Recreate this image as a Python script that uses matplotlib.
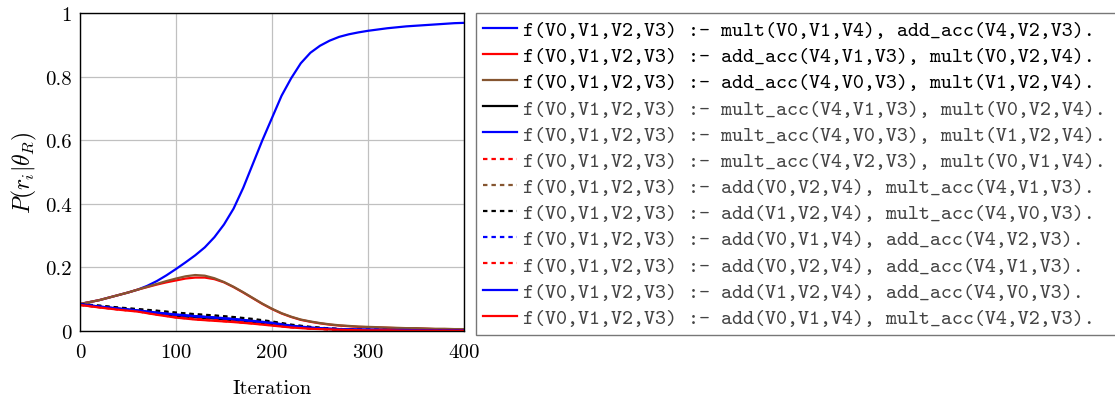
import matplotlib
matplotlib.use("Agg")
import matplotlib.pyplot as plt

plt.rcParams['mathtext.fontset'] = 'cm'
plt.rcParams['axes.formatter.use_mathtext'] = True

# iterations (fine grid for the curves that bend a lot)
iters_fine = [0, 10, 20, 30, 40, 50, 60, 70, 80, 90, 100, 110, 120, 130, 140, 150, 160, 170, 180, 190, 200,
              210, 220, 230, 240, 250, 260, 270, 280, 290, 300, 310, 320, 330, 340, 350, 360, 370, 380, 390, 400]
iters = [0, 20, 40, 60, 80, 100, 120, 140, 160, 180, 200,
         220, 240, 260, 280, 300, 320, 340, 360, 380, 400]

labels = [
    "f(V0,V1,V2,V3) :- mult(V0,V1,V4), add_acc(V4,V2,V3).",
    "f(V0,V1,V2,V3) :- add_acc(V4,V1,V3), mult(V0,V2,V4).",
    "f(V0,V1,V2,V3) :- add_acc(V4,V0,V3), mult(V1,V2,V4).",
    "f(V0,V1,V2,V3) :- mult_acc(V4,V1,V3), mult(V0,V2,V4).",
    "f(V0,V1,V2,V3) :- mult_acc(V4,V0,V3), mult(V1,V2,V4).",
    "f(V0,V1,V2,V3) :- mult_acc(V4,V2,V3), mult(V0,V1,V4).",
    "f(V0,V1,V2,V3) :- add(V0,V2,V4), mult_acc(V4,V1,V3).",
    "f(V0,V1,V2,V3) :- add(V1,V2,V4), mult_acc(V4,V0,V3).",
    "f(V0,V1,V2,V3) :- add(V0,V1,V4), add_acc(V4,V2,V3).",
    "f(V0,V1,V2,V3) :- add(V0,V2,V4), add_acc(V4,V1,V3).",
    "f(V0,V1,V2,V3) :- add(V1,V2,V4), add_acc(V4,V0,V3).",
    "f(V0,V1,V2,V3) :- add(V0,V1,V4), mult_acc(V4,V2,V3).",
]

# fine grid series
p_mult_addacc = [0.085, 0.091, 0.097, 0.105, 0.113, 0.121, 0.130, 0.142, 0.157, 0.175, 0.195,
                 0.216, 0.238, 0.263, 0.295, 0.335, 0.385, 0.450, 0.525, 0.600, 0.670,
                 0.740, 0.795, 0.842, 0.875, 0.897, 0.913, 0.925, 0.933, 0.939, 0.944,
                 0.948, 0.952, 0.955, 0.958, 0.960, 0.962, 0.964, 0.966, 0.968, 0.969]
p_addacc_v1 = [0.085, 0.091, 0.097, 0.105, 0.113, 0.121, 0.130, 0.138, 0.146, 0.153, 0.159,
               0.165, 0.168, 0.168, 0.163, 0.153, 0.138, 0.121, 0.103, 0.085, 0.069,
               0.055, 0.044, 0.035, 0.029, 0.024, 0.020, 0.017, 0.015, 0.013, 0.012,
               0.011, 0.010, 0.009, 0.008, 0.008, 0.007, 0.006, 0.006, 0.005, 0.005]
p_addacc_v0 = [0.085, 0.091, 0.097, 0.105, 0.113, 0.121, 0.130, 0.139, 0.148, 0.157, 0.165,
               0.172, 0.176, 0.174, 0.166, 0.154, 0.139, 0.122, 0.104, 0.086, 0.070,
               0.056, 0.045, 0.036, 0.030, 0.025, 0.021, 0.018, 0.016, 0.014, 0.013,
               0.012, 0.011, 0.010, 0.009, 0.009, 0.008, 0.007, 0.007, 0.006, 0.006]

# coarse grid series
p_multacc_v1 = [0.083, 0.076, 0.070, 0.063, 0.055, 0.048, 0.043, 0.039, 0.034, 0.028, 0.022,
                0.014, 0.009, 0.006, 0.004, 0.003, 0.003, 0.002, 0.002, 0.002, 0.001]
p_multacc_v0 = [0.084, 0.077, 0.071, 0.065, 0.058, 0.052, 0.047, 0.043, 0.038, 0.032, 0.026,
                0.017, 0.011, 0.007, 0.005, 0.004, 0.003, 0.003, 0.002, 0.002, 0.002]
p_multacc_v2 = [0.082, 0.075, 0.068, 0.062, 0.052, 0.043, 0.037, 0.033, 0.029, 0.024, 0.018,
                0.012, 0.008, 0.005, 0.004, 0.003, 0.002, 0.002, 0.001, 0.001, 0.001]
p_add02_multacc = [0.085, 0.079, 0.073, 0.068, 0.063, 0.057, 0.052, 0.048, 0.043, 0.036, 0.028,
                   0.019, 0.012, 0.008, 0.005, 0.003, 0.003, 0.002, 0.002, 0.001, 0.001]
p_add12_multacc = [0.085, 0.080, 0.074, 0.069, 0.064, 0.058, 0.053, 0.049, 0.044, 0.038, 0.030,
                   0.020, 0.013, 0.008, 0.005, 0.004, 0.003, 0.002, 0.002, 0.001, 0.001]
p_add01_addacc = [0.084, 0.077, 0.071, 0.065, 0.058, 0.052, 0.047, 0.042, 0.037, 0.031, 0.024,
                  0.016, 0.010, 0.007, 0.005, 0.004, 0.003, 0.003, 0.002, 0.002, 0.002]
p_add02_addacc = [0.082, 0.075, 0.068, 0.062, 0.053, 0.044, 0.038, 0.034, 0.030, 0.025, 0.019,
                  0.012, 0.008, 0.005, 0.004, 0.003, 0.002, 0.002, 0.001, 0.001, 0.001]
p_add12_addacc = [0.084, 0.077, 0.070, 0.064, 0.057, 0.051, 0.046, 0.042, 0.037, 0.031, 0.025,
                  0.016, 0.010, 0.007, 0.005, 0.004, 0.003, 0.003, 0.002, 0.002, 0.002]
p_add01_multacc = [0.082, 0.074, 0.067, 0.061, 0.051, 0.042, 0.036, 0.032, 0.028, 0.023, 0.017,
                   0.011, 0.007, 0.005, 0.003, 0.002, 0.002, 0.001, 0.001, 0.001, 0.001]

series = [p_mult_addacc, p_addacc_v1, p_addacc_v0, p_multacc_v1, p_multacc_v0, p_multacc_v2,
          p_add02_multacc, p_add12_multacc, p_add01_addacc, p_add02_addacc, p_add12_addacc,
          p_add01_multacc]

BLUE, RED, BROWN, BLACK = '#0000ff', '#ff0000', '#855530', '#000000'
colors = [BLUE, RED, BROWN, BLACK, BLUE, RED, BROWN, BLACK, BLUE, RED, BLUE, RED]
styles = ['-', '-', '-', '-', '-', '--', '--', '--', '--', '--', '-', '-']

fig = plt.figure(figsize=(11.15, 4.02), dpi=100)
ax = fig.add_axes([80 / 1115, 1 - 332 / 402, 384 / 1115, 318 / 402])

for ys, c, ls, lab in zip(series, colors, styles, labels):
    xs = iters_fine if len(ys) == len(iters_fine) else iters
    ax.plot(xs, ys, color=c, linestyle=ls, lw=1.6, label=lab,
            dashes=(2, 1.8) if ls == '--' else (None, None))

ax.set_xlim(0, 400)
ax.set_ylim(0, 1)
ax.set_xticks([0, 100, 200, 300, 400])
ax.set_yticks([0, 0.2, 0.4, 0.6, 0.8, 1])
ax.set_xticklabels(['0', '100', '200', '300', '400'], fontfamily='cmr10', fontsize=15)
ax.set_yticklabels(['0', '0.2', '0.4', '0.6', '0.8', '1'], fontfamily='cmr10', fontsize=15)
ax.tick_params(axis='x', length=0, pad=9)
ax.tick_params(axis='y', length=0, pad=6)
ax.grid(True, color='#c0c0c0', lw=0.9)
for sp in ax.spines.values():
    sp.set_linewidth(1.0)
ax.set_xlabel('Iteration', fontfamily='cmr10', fontsize=15, labelpad=13)
ax.set_ylabel(r'$P(r_i|\theta_R)$', fontsize=17, labelpad=4)

handles, labs = ax.get_legend_handles_labels()
x0, y1 = 476 / 1115, 1 - 14 / 402
leg = fig.legend(handles, labs, loc='upper left', mode='expand',
                 bbox_to_anchor=(x0, y1 - 0.5, 1.02 - x0, 0.5),
                 prop={'family': 'cmtt10', 'size': 15.1}, frameon=True, fancybox=False,
                 handlelength=1.6, handletextpad=0.3, labelspacing=0.31,
                 borderpad=0.35, borderaxespad=0)
leg.get_frame().set_edgecolor('#555555')
leg.get_frame().set_linewidth(1.0)
for i, t in enumerate(leg.get_texts()):
    t.set_color('#000000' if i < 3 else '#444444')

fig.savefig('out.png', dpi=100)
